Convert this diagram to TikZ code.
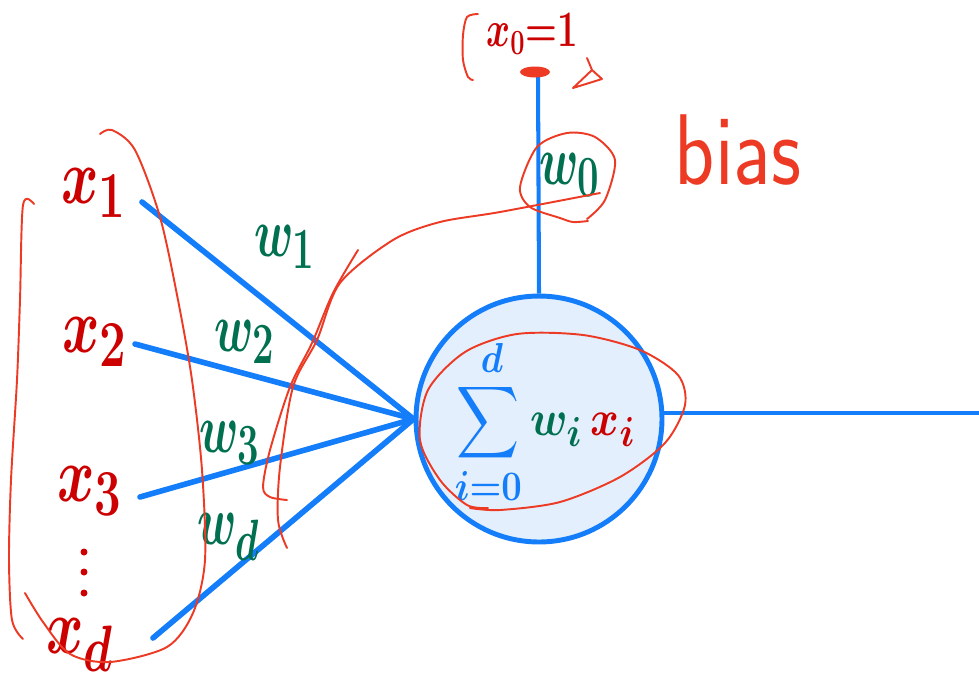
\documentclass[tikz,border=0pt]{standalone}
\usepackage{amsmath}
\usepackage{tikz}
\usetikzlibrary{shapes.geometric}
\definecolor{xred}{RGB}{204,0,0}
\definecolor{wgreen}{RGB}{0,112,80}
\definecolor{nblue}{RGB}{20,125,250}
\definecolor{nfill}{RGB}{227,239,253}
\definecolor{annored}{RGB}{236,58,36}

\begin{document}
\begin{tikzpicture}[
  x=0.02cm, y=-0.02cm,
  big/.style={font=\fontsize{24.88}{24.88}\selectfont\boldmath, inner sep=0pt, transform shape},
  xlab/.style={big, text=xred, xscale=1.3, yscale=1.8},
  wlab/.style={big, text=wgreen, xscale=1.05, yscale=1.6},
  inedge/.style={draw=nblue, line width=3.2pt, line cap=round},
  neuron/.style={circle, draw=nblue, fill=nfill, line width=2.8pt, minimum size=4.92cm, inner sep=0pt},
  blob/.style={ellipse, fill=annored, minimum width=0.6cm, minimum height=0.22cm, inner sep=0pt},
  annot/.style={draw=annored, line width=1.1pt, line cap=round, line join=round}
]
\useasboundingbox (0,0) rectangle (979,684);

% inputs
\node[xlab] (x1) at (94,193) {$x_1$};
\node[xlab] (x2) at (95,342) {$x_2$};
\node[xlab] (x3) at (90,491) {$x_3$};
\node[xlab] (xd) at (80,645) {$x_d$};
\foreach \k in {552,572,593}
  \fill[xred] (84,\k) circle (3.5);

% neuron
\node[neuron] (neuron) at (539,419) {};
\node[big, yscale=1.15] (sumtext) at (545,422) {$\displaystyle\textcolor{nblue}{\sum_{i=0}^{\,d}}\,\textcolor{wgreen}{w_i}\,\textcolor{xred}{x_i}$};

\coordinate (in1) at (142,202);
\coordinate (in2) at (135,344);
\coordinate (in3) at (140,497);
\coordinate (ind) at (153,638);
\foreach \c in {in1,in2,in3,ind}
  \draw[inedge] (\c) -- (neuron.west);

% weights
\node[wlab] (w1) at (285,247) {$w_1$};
\node[wlab] (w2) at (245,342) {$w_2$};
\node[wlab] (w3) at (230,443) {$w_3$};
\node[wlab] (wd) at (229,537) {$w_d$};

% bias
\coordinate (biasin) at (538,74);
\draw[draw=nblue, line width=2.3pt] (neuron.north) -- (biasin);
\node[blob] (x0) at (535,72) {};
\node[big, text=xred, font=\fontsize{20}{20}\selectfont\boldmath, yscale=1.4] (x0lab) at (532,34) {$x_0{=}1$};
\node[wlab] (w0) at (570,175) {$w_0$};
\node[big, text=annored, font=\fontsize{24.88}{24.88}\selectfont\sffamily, xscale=1.9, yscale=2.3] (bias) at (738,150) {bias};

% output
\coordinate (outend) at (979,413);
\draw[draw=nblue, line width=2.6pt] (neuron.east |- outend) -- (outend);

% red annotations
\draw[annot] plot[smooth] coordinates {(34,204) (23,205) (20,300) (17,380) (11,480) (9,560) (12,620) (23,639)};
\draw[annot] plot[smooth] coordinates {(100,134) (112,130) (135,150) (160,217) (178,300) (192,380) (202,470) (205,560) (193,613) (167,647) (110,662) (70,654) (43,622) (25,593)};
\draw[annot] plot[smooth] coordinates {(358,250) (333,293) (312,343) (290,387) (270,450) (263,487) (270,497) (287,500)};
\draw[annot] plot[smooth] coordinates {(600,193) (500,212) (440,222) (393,240) (340,283) (317,340) (293,387) (280,467) (278,520) (287,548)};
\draw[annot] plot[smooth] coordinates {(587,219) (605,200) (615,160) (595,137) (567,133) (537,147) (520,187) (530,207) (560,218) (573,222) (588,221)};
\draw[annot] plot[smooth] coordinates {(488,508) (467,505) (440,480) (420,440) (428,390) (465,352) (517,334) (583,335) (640,350) (678,375) (685,405) (665,443) (620,477) (560,502) (500,510) (470,508)};
\draw[annot] plot[smooth] coordinates {(478,14) (467,17) (463,35) (463,60) (468,77) (473,80)};
\draw[annot] (587,58) -- (592,70) -- (602,79) -- (573,88) -- (592,70);
\end{tikzpicture}
\end{document}
